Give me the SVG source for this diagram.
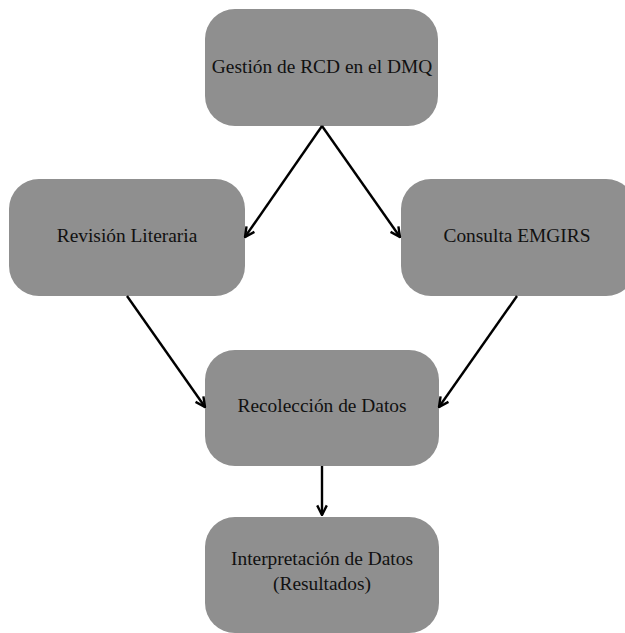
<svg xmlns="http://www.w3.org/2000/svg" width="625" height="633" viewBox="0 0 625 633">
<style>
.box{fill:#8f8f8f;}
.lbl{font-family:"Liberation Serif","Times New Roman",serif;font-size:19.4px;fill:#111;text-anchor:middle;}
.conn{stroke:#000;stroke-width:2.4;fill:none;marker-end:url(#arr);}
</style>
<defs>
<marker id="arr" viewBox="0 0 10 10" refX="9" refY="5" markerWidth="5" markerHeight="5" orient="auto" markerUnits="strokeWidth">
<path d="M1,1 L9,5 L1,9" fill="none" stroke="#000" stroke-width="2"/>
</marker>
</defs>
<rect width="625" height="633" fill="#fff"/>
<g id="n1"><rect class="box" x="205" y="9" width="233" height="117" rx="30"/><text class="lbl" x="322" y="73">Gestión de RCD en el DMQ</text></g>
<g id="n2"><rect class="box" x="9" y="179" width="236" height="117" rx="30"/><text class="lbl" x="127" y="242">Revisión Literaria</text></g>
<g id="n3"><rect class="box" x="401" y="179" width="235" height="117" rx="30"/><text class="lbl" x="517" y="242">Consulta EMGIRS</text></g>
<g id="n4"><rect class="box" x="205" y="350" width="234" height="116" rx="30"/><text class="lbl" x="322" y="412">Recolección de Datos</text></g>
<g id="n5"><rect class="box" x="205" y="517" width="234" height="116" rx="30"/><text class="lbl" x="322" y="565">Interpretación de Datos</text><text class="lbl" x="322" y="590">(Resultados)</text></g>
<g id="connectors">
<line class="conn" x1="322" y1="126" x2="245" y2="237"/>
<line class="conn" x1="322" y1="126" x2="400" y2="237"/>
<line class="conn" x1="127" y1="296" x2="205" y2="407"/>
<line class="conn" x1="517" y1="296" x2="439" y2="407"/>
<line class="conn" x1="322" y1="466" x2="322" y2="515"/>
</g>
</svg>
